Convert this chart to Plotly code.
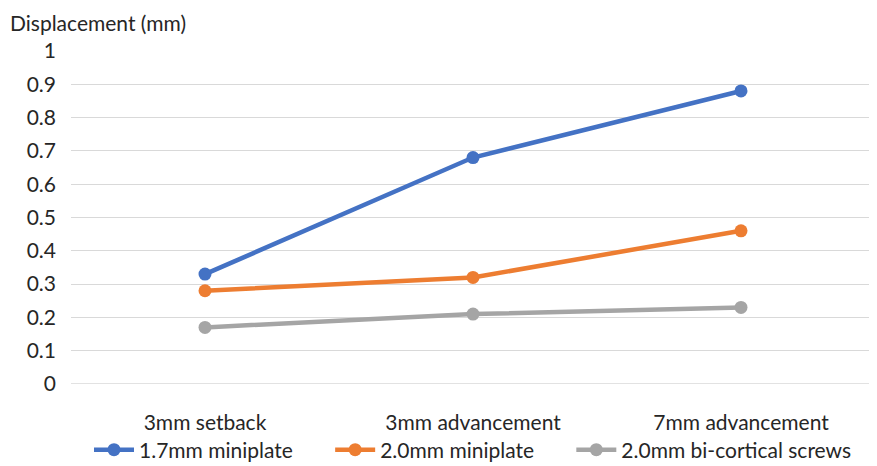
import plotly.graph_objects as go

categories = ["3mm setback", "3mm advancement", "7mm advancement"]
series_names = ["1.7mm miniplate", "2.0mm miniplate", "2.0mm bi-cortical screws"]
s1 = [0.33, 0.68, 0.88]
s2 = [0.28, 0.32, 0.46]
s3 = [0.17, 0.21, 0.23]
colors = ["#4472C4", "#ED7D31", "#A5A5A5"]
tick_vals = [0, 0.1, 0.2, 0.3, 0.4, 0.5, 0.6, 0.7, 0.8, 0.9, 1]
tick_text = ["0", "0.1", "0.2", "0.3", "0.4", "0.5", "0.6", "0.7", "0.8", "0.9", "1"]

FONT = "Lato"
FS = 21
W, H = 869, 458
PAD = "\u00a0" * 6
fig = go.Figure()
for i, (name, vals, c) in enumerate(zip(series_names, [s1, s2, s3], colors)):
    label = name + (PAD if i < len(series_names) - 1 else "")
    fig.add_trace(go.Scatter(
        x=categories, y=vals, name=label, mode="lines+markers",
        line=dict(color=c, width=4.5),
        marker=dict(color=c, size=13),
    ))

fig.update_layout(
    width=W, height=H,
    margin=dict(l=63, r=2, t=43, b=82, autoexpand=False),
    paper_bgcolor="white", plot_bgcolor="white",
    font=dict(family=FONT, size=FS, color="#262626"),
    showlegend=True,
    legend=dict(orientation="h", x=0.5, xanchor="center", xref="paper",
                y=16/H, yanchor="middle", yref="container",
                font=dict(size=FS, color="#262626"), tracegroupgap=0,
                itemwidth=40,
                bgcolor="rgba(0,0,0,0)"),
    xaxis=dict(showgrid=False, showline=False, zeroline=False, ticks="",
               range=[-0.5, 2.5], tickfont=dict(size=FS), automargin=False,
               ticklabelstandoff=24),
    yaxis=dict(range=[0, 1], tickvals=tick_vals, ticktext=tick_text,
               showgrid=True, gridcolor="#D9D9D9", gridwidth=1.3,
               zeroline=False, showline=False, ticks="", ticklabelstandoff=14,
               tickfont=dict(size=FS), automargin=False),
    annotations=[dict(text="Displacement (mm)", xref="paper", yref="paper",
                      x=-63/804, y=1 + 29/333, xanchor="left", yanchor="middle",
                      showarrow=False, font=dict(size=FS, color="#262626"))],
)
fig.add_shape(type="line", xref="paper", yref="y", x0=0, x1=1, y0=0, y1=0,
              line=dict(color="#D9D9D9", width=1.3), layer="below")
fig.write_html("out.html")
